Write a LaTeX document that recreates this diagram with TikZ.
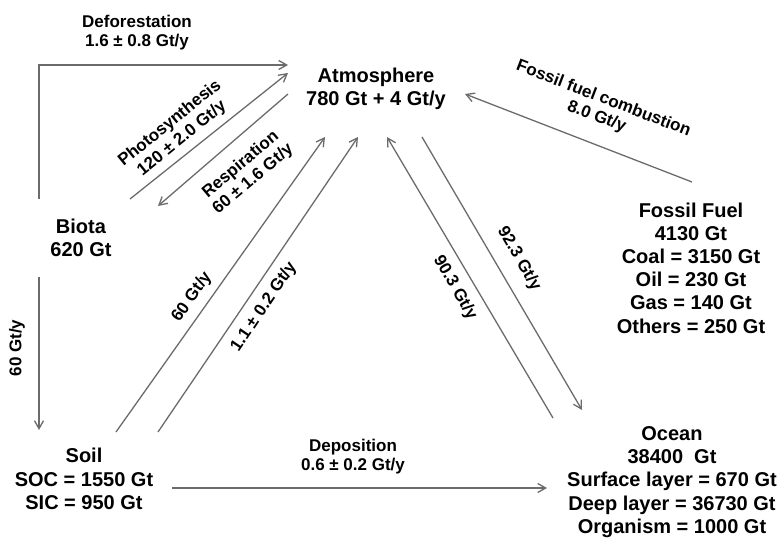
\documentclass[tikz,border=0pt]{standalone}
\usepackage{fontspec}
\setmainfont{Liberation Sans}
\usetikzlibrary{arrows.meta}

\begin{document}
\begin{tikzpicture}[x=0.5pt,y=-0.5pt]
\tikzset{
  pool/.style={align=center,inner sep=0pt,font=\fontsize{10}{11.6}\selectfont\bfseries},
  flow/.style={-{Straight Barb[length=4pt,width=4.5pt]},draw=black!58,line width=0.65pt},
  flowlabel/.style={align=center,inner sep=0pt,font=\fontsize{8.5}{9.6}\selectfont\bfseries}
}
\useasboundingbox (0,0) rectangle (782,540);
\node[pool] (n_atm) at (376,89) {Atmosphere\\780 Gt + 4 Gt/y};
\node[pool] (n_biota) at (81,238) {Biota\\620 Gt};
\node[pool] (n_soil) at (84,479) {Soil\\SOC = 1550 Gt\\SIC = 950 Gt};
\node[pool] (n_fossil) at (691,268) {Fossil Fuel\\4130 Gt\\Coal = 3150 Gt\\Oil = 230 Gt\\Gas = 140 Gt\\Others = 250 Gt};
\node[pool] (n_ocean) at (672,482) {Ocean\\38400~ Gt\\Surface layer = 670 Gt\\Deep layer = 36730 Gt\\Organism = 1000 Gt};
\draw[flow] ([shift={(-42,-39)}]n_biota.center) |- ([shift={(-88,-24)}]n_atm.center);
\draw[flow] ([shift={(49,-39)}]n_biota.center) -- ([shift={(-88,-16)}]n_atm.center);
\draw[flow] ([shift={(-88,5)}]n_atm.center) -- ([shift={(77,-32)}]n_biota.center);
\draw[flow] ([shift={(-42,39)}]n_biota.center) -- ([shift={(-45,-49)}]n_soil.center);
\draw[flow] ([shift={(32,-47)}]n_soil.center) -- ([shift={(-51,48)}]n_atm.center);
\draw[flow] ([shift={(74,-47)}]n_soil.center) -- ([shift={(-18,48)}]n_atm.center);
\draw[flow] ([shift={(-119,-64)}]n_ocean.center) -- ([shift={(11,48)}]n_atm.center);
\draw[flow] ([shift={(46,48)}]n_atm.center) -- ([shift={(-90,-72)}]n_ocean.center);
\draw[flow] ([shift={(1,-86)}]n_fossil.center) -- ([shift={(89,5)}]n_atm.center);
\draw[flow] ([shift={(88,9)}]n_soil.center) -- ([shift={(-125,6)}]n_ocean.center);
\node[flowlabel] (l_defor) at (137,33) {Deforestation\\1.6 ± 0.8 Gt/y};
\node[flowlabel,rotate=39] (l_photo) at (176,131) {Photosynthesis\\120 ± 2.0 Gt/y};
\node[flowlabel,rotate=40] (l_resp) at (247,172) {Respiration\\60 ± 1.6 Gt/y};
\node[flowlabel,rotate=90] (l_litter) at (17,348) {60 Gt/y};
\node[flowlabel,rotate=55] (l_soilresp) at (192,297) {60 Gt/y};
\node[flowlabel,rotate=56] (l_erosion) at (264,307) {1.1 ± 0.2 Gt/y};
\node[flowlabel,rotate=-60] (l_oceanin) at (455,288) {90.3 Gt/y};
\node[flowlabel,rotate=-60] (l_oceanout) at (519,259) {92.3 Gt/y};
\node[flowlabel,rotate=-21] (l_fossil) at (600,108) {Fossil fuel combustion\\8.0 Gt/y};
\node[flowlabel] (l_depo) at (353,457) {Deposition\\0.6 ± 0.2 Gt/y};
\end{tikzpicture}
\end{document}
